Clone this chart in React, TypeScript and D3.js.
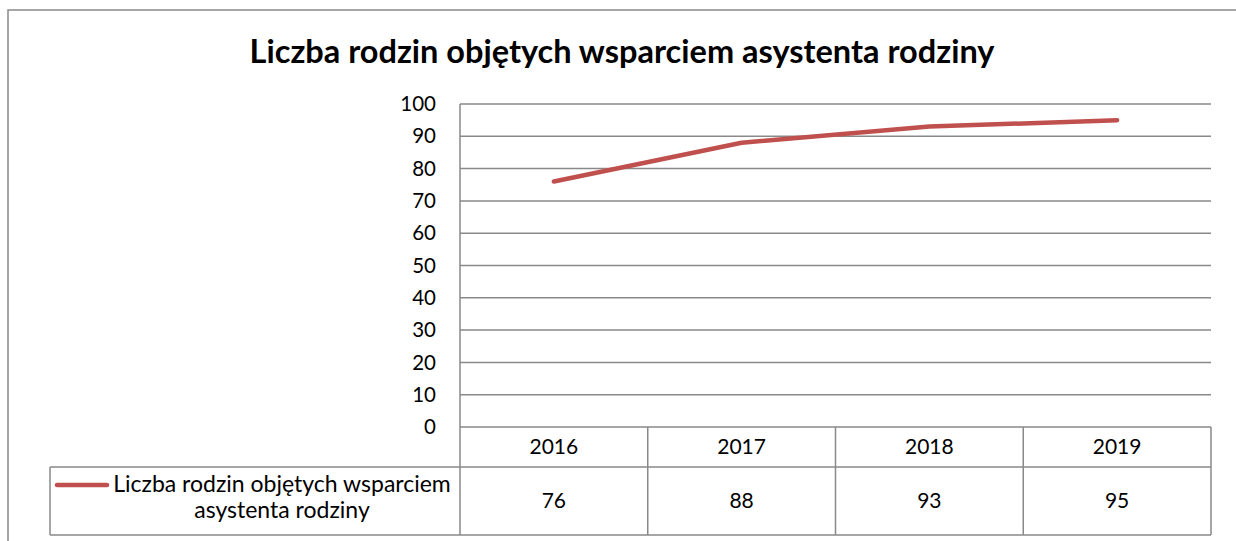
import React from 'react';
import * as d3 from 'd3';

const title = 'Liczba rodzin objętych wsparciem asystenta rodziny';
const categories = ['2016', '2017', '2018', '2019'];
const values = [76, 88, 93, 95];
const yTicks = [0, 10, 20, 30, 40, 50, 60, 70, 80, 90, 100];
const legendLines = ['Liczba rodzin objętych wsparciem', 'asystenta rodziny'];

const W = 1236;
const H = 541;
const plotL = 460;
const plotR = 1211;
const plotT = 104;
const plotB = 427;
const headB = 467;
const tableB = 535;
const legendL = 50;
const gridColor = '#898989';
const lineColor = '#C0504D';
const font = 'Lato, "Open Sans", sans-serif';

export default function App() {
  const x = d3.scaleBand<string>().domain(categories).range([plotL, plotR]);
  const y = d3.scaleLinear().domain([0, 100]).range([plotB, plotT]);
  const bw = x.bandwidth();
  const cx = (c: string) => (x(c) as number) + bw / 2;
  const line = d3
    .line<number>()
    .x((_, i) => cx(categories[i]))
    .y((d) => y(d));

  return (
    <svg width={W} height={H} style={{ position: 'absolute', left: 0, top: 0, background: '#fff' }}>
      <rect x={0} y={0} width={W} height={H} fill="#fff" />
      {/* outer chart border */}
      <path d={`M8,${H + 5} L8,10 L${W + 5},10`} fill="none" stroke={gridColor} strokeWidth={1.5} />
      <text x={622} y={63} textAnchor="middle" fontFamily={font} fontWeight="bold" fontSize={32.5} fill="#000">
        {title}
      </text>
      {/* gridlines */}
      {yTicks.map((t) => (
        <line key={t} x1={plotL} x2={plotR} y1={y(t)} y2={y(t)} stroke={gridColor} strokeWidth={1.5} />
      ))}
      {/* y labels */}
      {yTicks.map((t) => (
        <text key={'l' + t} x={436} y={y(t)} dy="0.35em" textAnchor="end" fontFamily={font} fontSize={20.5} fill="#000">
          {t}
        </text>
      ))}
      {/* left axis line through table */}
      <line x1={plotL} x2={plotL} y1={plotT} y2={tableB} stroke={gridColor} strokeWidth={1.5} />
      {/* table */}
      <line x1={legendL} x2={plotR} y1={headB} y2={headB} stroke={gridColor} strokeWidth={1.5} />
      <line x1={legendL} x2={plotR} y1={tableB} y2={tableB} stroke={gridColor} strokeWidth={1.5} />
      <line x1={legendL} x2={legendL} y1={headB} y2={tableB} stroke={gridColor} strokeWidth={1.5} />
      {categories.map((c) => (
        <line
          key={'v' + c}
          x1={(x(c) as number) + bw}
          x2={(x(c) as number) + bw}
          y1={plotB}
          y2={tableB}
          stroke={gridColor}
          strokeWidth={1.5}
        />
      ))}
      {categories.map((c) => (
        <text key={'c' + c} x={cx(c)} y={454} textAnchor="middle" fontFamily={font} fontSize={21} fill="#000">
          {c}
        </text>
      ))}
      {values.map((v, i) => (
        <text key={'d' + i} x={cx(categories[i])} y={508} textAnchor="middle" fontFamily={font} fontSize={21} fill="#000">
          {v}
        </text>
      ))}
      {/* legend key */}
      <line x1={57} x2={107} y1={485} y2={485} stroke={lineColor} strokeWidth={4.5} strokeLinecap="round" />
      <text x={282} y={492} textAnchor="middle" fontFamily={font} fontSize={23} fill="#000">
        {legendLines[0]}
      </text>
      <text x={282} y={518} textAnchor="middle" fontFamily={font} fontSize={23} fill="#000">
        {legendLines[1]}
      </text>
      {/* series line */}
      <path d={line(values) as string} fill="none" stroke={lineColor} strokeWidth={4.5} strokeLinecap="round" strokeLinejoin="round" />
    </svg>
  );
}
